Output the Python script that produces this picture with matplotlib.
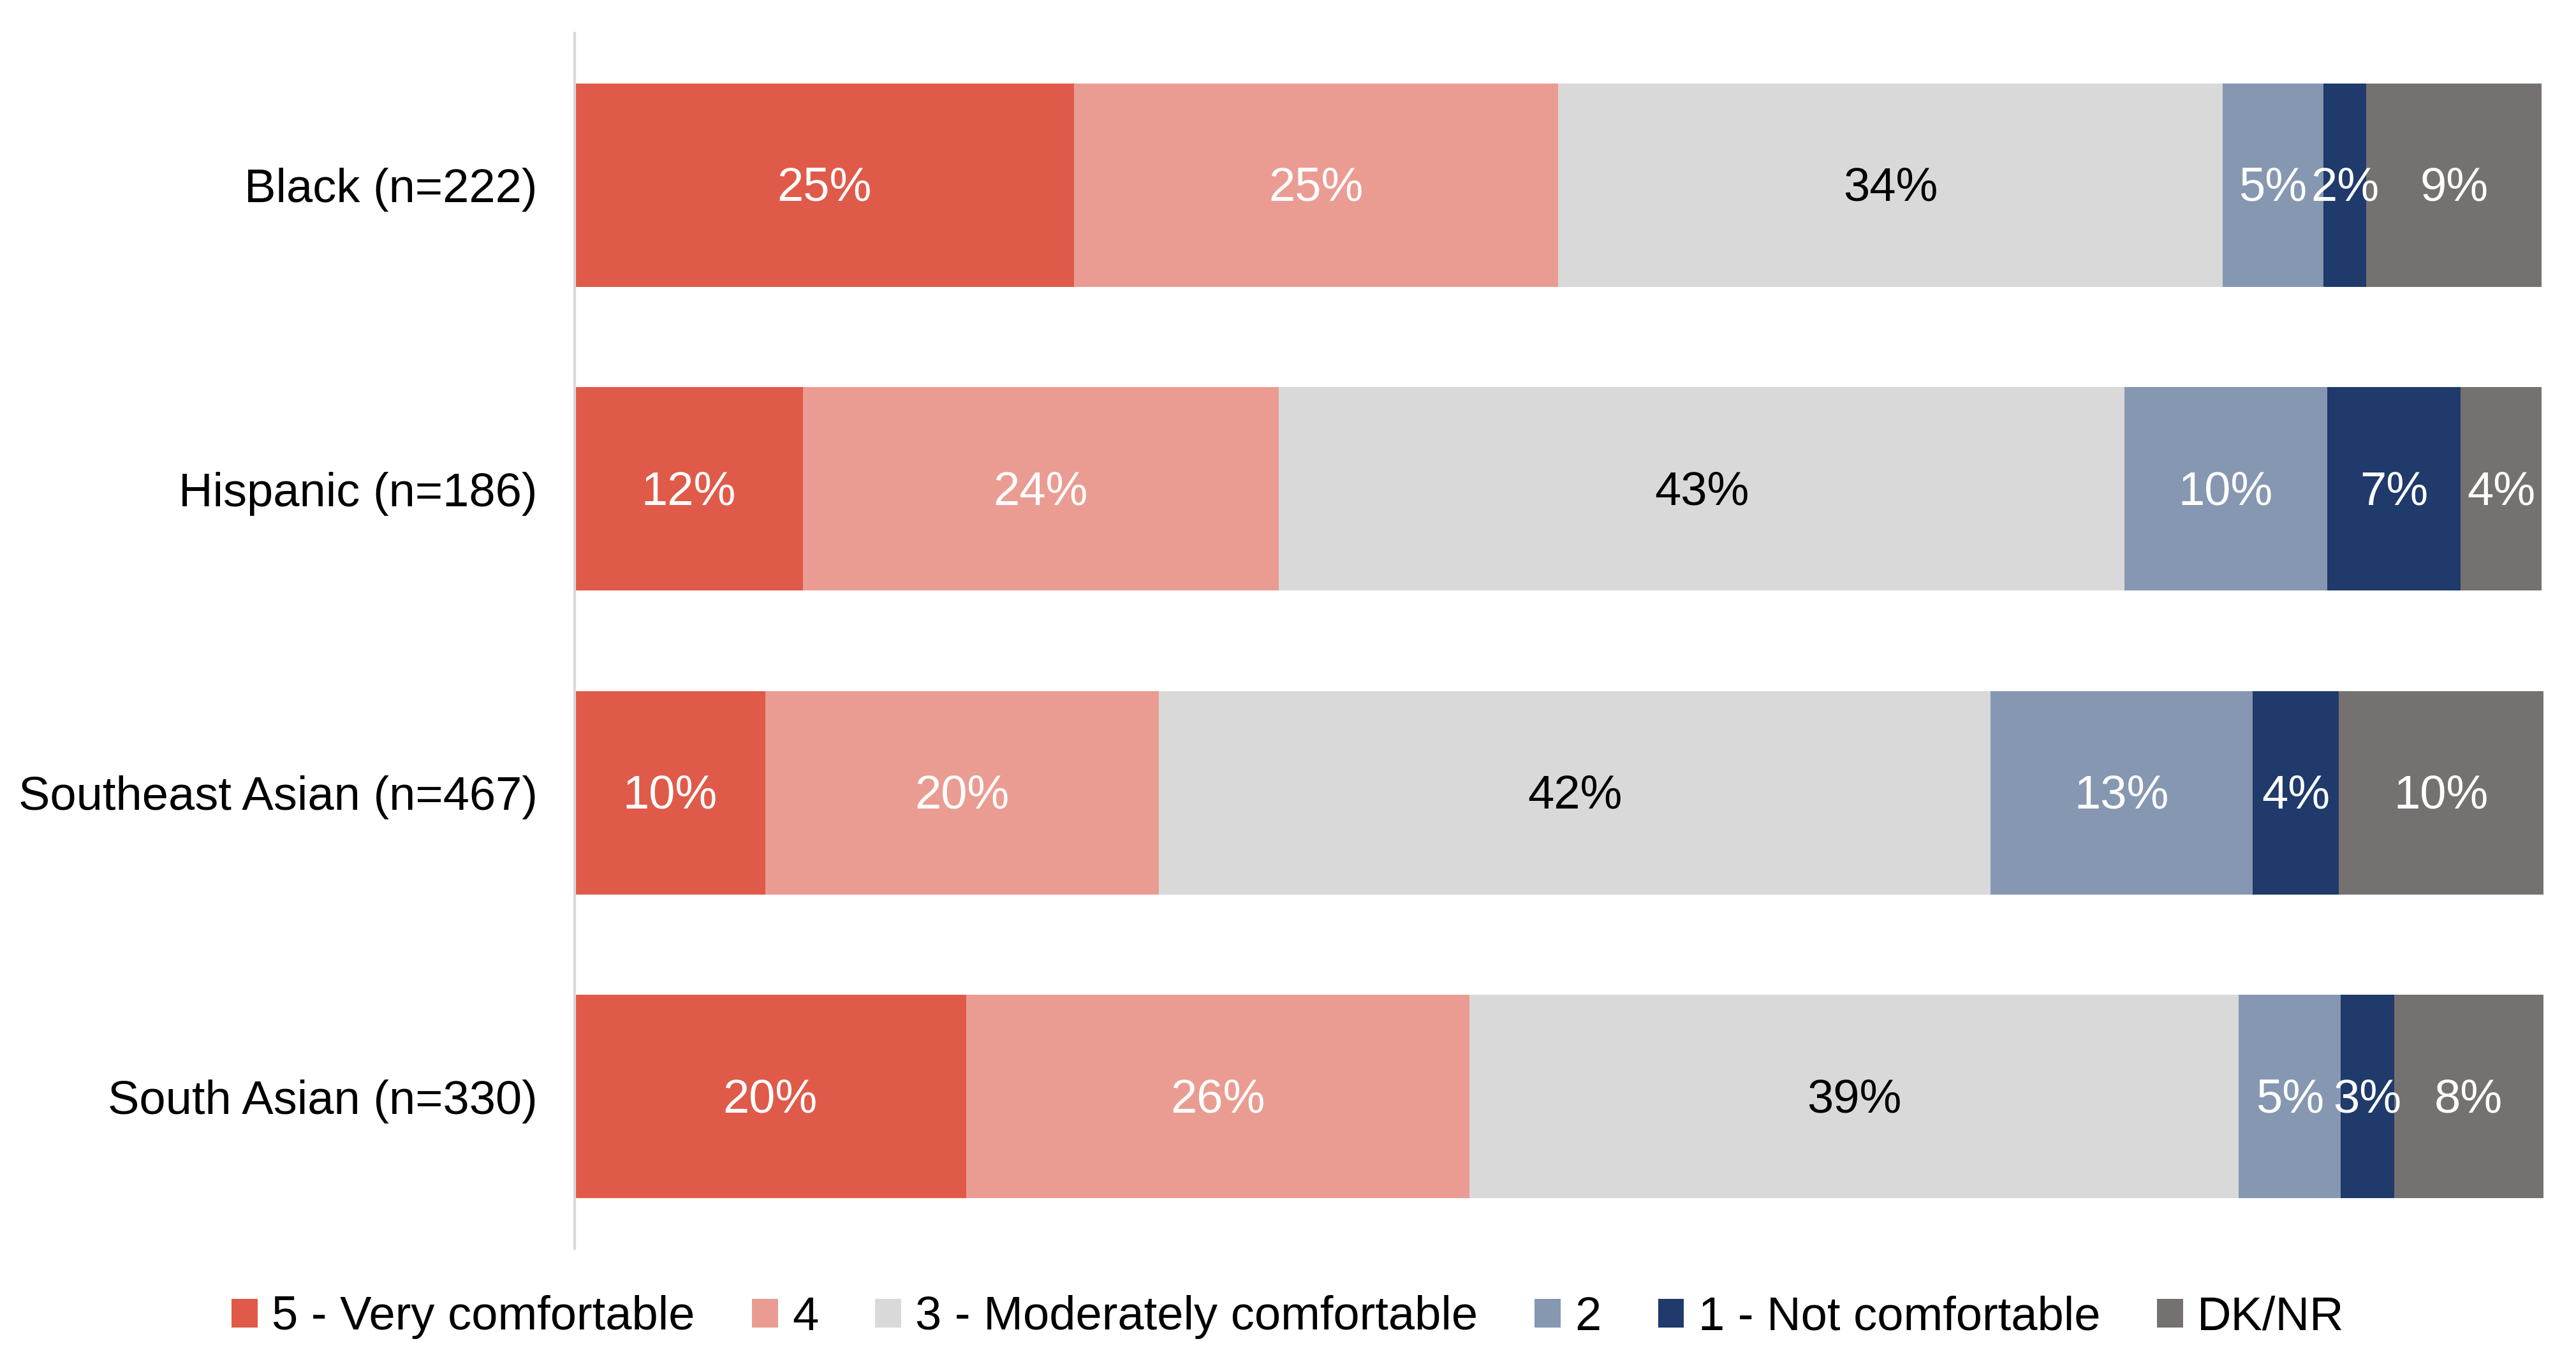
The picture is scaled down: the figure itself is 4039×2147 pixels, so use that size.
import numpy as np
import matplotlib.pyplot as plt
from matplotlib.patches import Patch

plt.rcParams['font.family'] = ['Liberation Sans', 'DejaVu Sans']

# groups, top to bottom
groups = ['Black (n=222)', 'Hispanic (n=186)', 'Southeast Asian (n=467)', 'South Asian (n=330)']

# response shares (%) per group
very_comfortable = [25.4, 11.6, 9.7, 19.9]
four = [24.6, 24.2, 20.0, 25.6]
moderately = [33.8, 43.0, 42.3, 39.1]
two = [5.1, 10.3, 13.3, 5.2]
not_comfortable = [2.2, 6.8, 4.4, 2.7]
dk_nr = [8.9, 4.1, 10.4, 7.6]

series_names = ['5 - Very comfortable', '4', '3 - Moderately comfortable', '2',
                '1 - Not comfortable', 'DK/NR']
series = [very_comfortable, four, moderately, two, not_comfortable, dk_nr]
colors = ['#E05A4A', '#EA9C93', '#D9D9D9', '#8697B1', '#1F3A6B', '#767171']
text_colors = ['white', 'white', 'black', 'white', 'white', 'white']

fig = plt.figure(figsize=(4039 / 300, 2147 / 300), dpi=300)
ax = fig.add_axes([901 / 4039, 1 - 1958 / 2147, (3988 - 901) / 4039, (1958 - 52) / 2147])

y = np.arange(len(groups))
left = np.zeros(len(groups))
for name, vals, c, tc in zip(series_names, series, colors, text_colors):
    vals = np.array(vals)
    ax.barh(y, vals, left=left, height=0.67, color=c, label=name)
    for yi, (l, v) in enumerate(zip(left, vals)):
        ax.text(l + v / 2, yi + 0.01, f'{round(v):.0f}%', ha='center', va='center',
                color=tc, fontsize=17.8)
    left += vals

ax.set_xlim(0, left.max())
ax.set_ylim(len(groups) - 0.5, -0.5)
ax.set_yticks(y)
ax.set_yticklabels(groups, fontsize=17.8)
ax.tick_params(axis='y', length=0, pad=14)
ax.set_xticks([])
for s in ['top', 'right', 'bottom']:
    ax.spines[s].set_visible(False)
ax.spines['left'].set_color('#D9D9D9')
ax.spines['left'].set_linewidth(1.0)

handles = [Patch(facecolor=c, label=n) for n, c in zip(series_names, colors)]
fig.legend(handles=handles, loc='center', bbox_to_anchor=(0.5, 1 - 2066 / 2147), ncol=6,
           frameon=False, fontsize=17.8, handlelength=0.55, handleheight=0.55,
           handletextpad=0.3, columnspacing=1.2)

fig.savefig('out.png', dpi=300)
